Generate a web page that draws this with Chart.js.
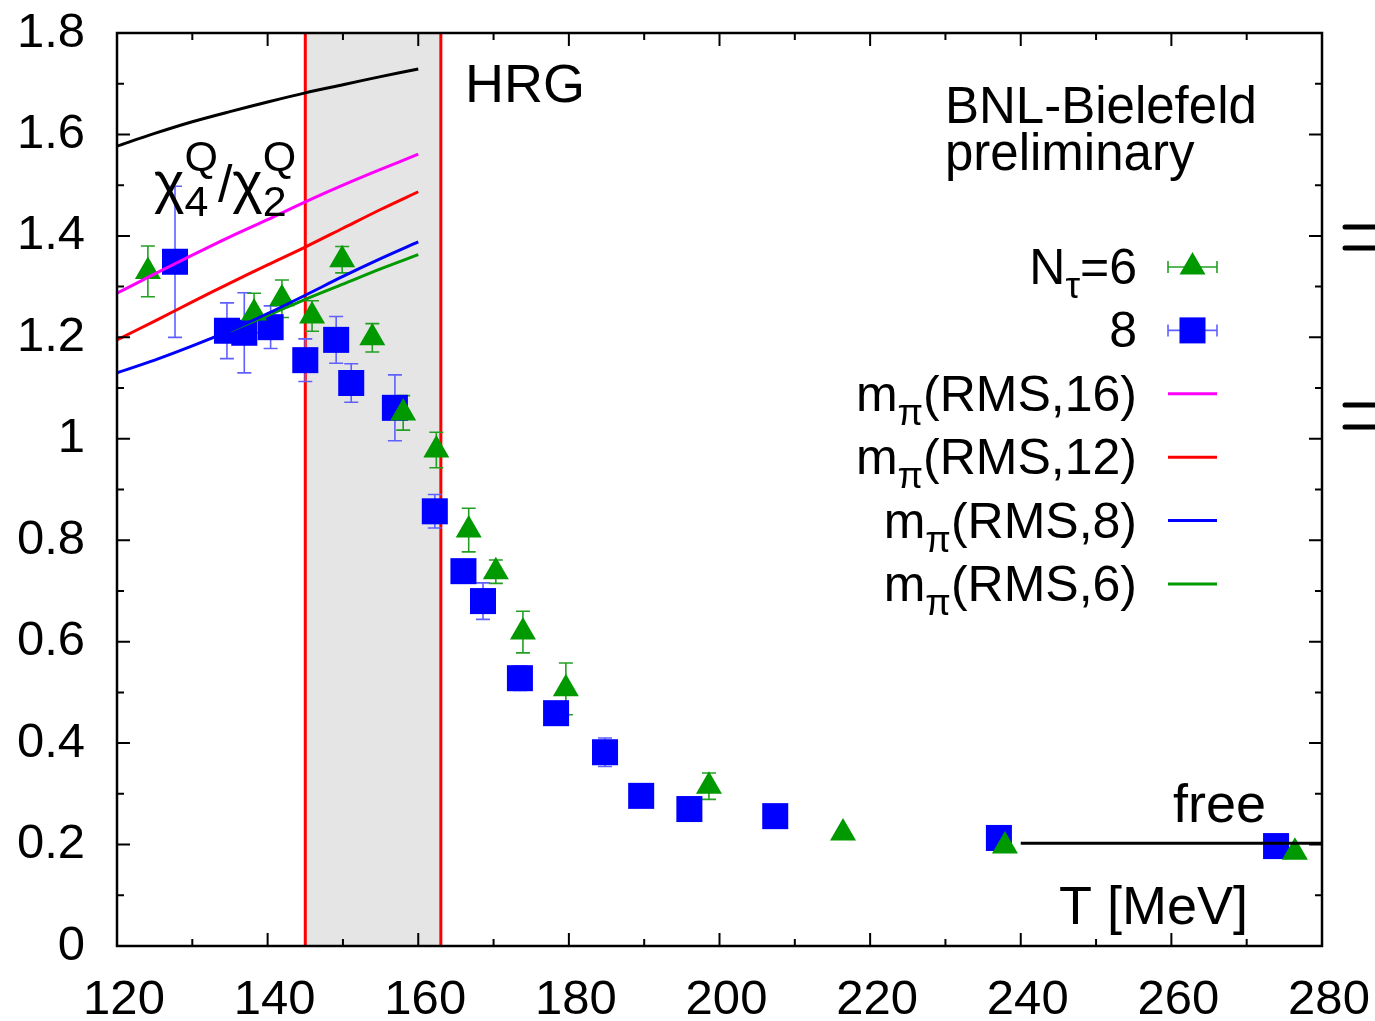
<!DOCTYPE html>
<html>
<head>
<meta charset="utf-8">
<script src="https://cdn.jsdelivr.net/npm/chart.js@4.4.1/dist/chart.umd.min.js"></script>
<style>
  html, body { margin: 0; padding: 0; background: #fff; }
  canvas { display: block; }
</style>
</head>
<body>
<canvas id="chart" width="1375" height="1021" style="width:1375px;height:1021px"></canvas>
<script>
// N_tau = 6 (green triangles)
const tempN6  = [124.1, 138.2, 141.9, 145.9, 149.9, 153.9, 158.0, 162.4, 166.7, 170.3, 173.9, 179.6, 198.6, 216.4, 237.9, 276.4];
const ratioN6 = [1.330, 1.248, 1.276, 1.242, 1.353, 1.199, 1.051, 0.978, 0.820, 0.738, 0.619, 0.507, 0.315, 0.223, 0.197, 0.185];
const errN6   = [0.050, 0.039, 0.037, 0.030, 0.026, 0.028, 0.034, 0.035, 0.043, 0.023, 0.041, 0.051, 0.026, 0.004, 0.003, 0.003];

// N_tau = 8 (blue squares)
const tempN8  = [127.7, 134.6, 136.9, 140.4, 145.0, 149.1, 151.1, 156.9, 162.2, 166.0, 168.6, 173.5, 178.3, 184.8, 189.6, 196.0, 207.4, 237.1, 273.9];
const ratioN8 = [1.349, 1.213, 1.209, 1.220, 1.155, 1.195, 1.110, 1.061, 0.857, 0.739, 0.680, 0.528, 0.459, 0.382, 0.296, 0.270, 0.256, 0.213, 0.197];
const errN8   = [0.149, 0.055, 0.079, 0.042, 0.042, 0.046, 0.038, 0.065, 0.033, 0.020, 0.036, 0.024, 0.015, 0.028, 0.010, 0.010, 0.010, 0.010, 0.010];

// HRG curves
const curveT = [120, 125, 130, 135, 140, 145, 150, 155, 160];
const hrg    = [1.577, 1.602, 1.625, 1.645, 1.664, 1.682, 1.698, 1.714, 1.729];
const rms16  = [1.287, 1.325, 1.362, 1.398, 1.432, 1.467, 1.500, 1.531, 1.561];
const rms12  = [1.195, 1.232, 1.270, 1.307, 1.343, 1.378, 1.415, 1.452, 1.487];
const rms8   = [1.130, 1.155, 1.183, 1.213, 1.247, 1.283, 1.320, 1.355, 1.388];
const rms6T  = [135.1, 140, 145, 150, 155, 160];
const rms6   = [1.213, 1.243, 1.275, 1.305, 1.335, 1.363];

// free limit
const freeT = [240, 280];
const freeV = [0.2026, 0.2026];

// transition band
const bandT = [145, 163];

const xTickValues = [120, 140, 160, 180, 200, 220, 240, 260, 280];
const yTickValues = [0, 0.2, 0.4, 0.6, 0.8, 1, 1.2, 1.4, 1.6, 1.8];

const GREEN = '#009900', BLUE = '#0000ff', MAGENTA = '#ff00ff', RED = '#ff0000';
const FONT = '"Liberation Sans", Arial, Helvetica, sans-serif';

const pts = (xs, ys) => xs.map((x, i) => ({ x: x, y: ys[i] }));

const lineSet = (label, xs, ys, color) => ({
  type: 'line', label: label, data: pts(xs, ys), borderColor: color, borderWidth: 3,
  pointRadius: 0, fill: false, tension: 0.3, order: 0
});

function layoutText(ctx, parts) {
  let x = 0, prevStart = 0, prevAdv = 0;
  const items = [];
  for (const p of parts) {
    ctx.font = p.size + 'px ' + FONT;
    const w = ctx.measureText(p.t).width;
    if (p.stack) {
      items.push(Object.assign({}, p, { x: prevStart }));
      prevAdv = Math.max(prevAdv, w);
      x = prevStart + prevAdv;
    } else {
      items.push(Object.assign({}, p, { x: x }));
      prevStart = x; prevAdv = w; x += w;
    }
  }
  return { items: items, width: x };
}

function drawRich(ctx, parts, x, base, align) {
  const L = layoutText(ctx, parts);
  const x0 = align === 'right' ? x - L.width : x;
  ctx.fillStyle = '#000';
  ctx.textBaseline = 'alphabetic';
  ctx.textAlign = 'left';
  for (const it of L.items) {
    ctx.font = it.size + 'px ' + FONT;
    ctx.fillText(it.t, x0 + it.x, base + (it.dy || 0));
  }
}

function marker(ctx, style, r, x, y, color) {
  ctx.fillStyle = color;
  Chart.helpers.drawPoint(ctx, { pointStyle: style, radius: r, borderWidth: 0, rotation: 0 }, x, y);
}

const legendRows = [
  { parts: [{ t: 'N', size: 50 }, { t: 'τ', size: 37, dy: 14 }, { t: '=6', size: 50 }], kind: 'tri' },
  { parts: [{ t: '8', size: 50 }], kind: 'sq' },
  { parts: [{ t: 'm', size: 50 }, { t: 'π', size: 37, dy: 14 }, { t: '(RMS,16)', size: 50 }], color: MAGENTA },
  { parts: [{ t: 'm', size: 50 }, { t: 'π', size: 37, dy: 14 }, { t: '(RMS,12)', size: 50 }], color: RED },
  { parts: [{ t: 'm', size: 50 }, { t: 'π', size: 37, dy: 14 }, { t: '(RMS,8)', size: 50 }], color: BLUE },
  { parts: [{ t: 'm', size: 50 }, { t: 'π', size: 37, dy: 14 }, { t: '(RMS,6)', size: 50 }], color: GREEN }
];

const decor = {
  id: 'decor',
  beforeDatasetsDraw(chart) {
    const { ctx, chartArea: a, scales: { x, y } } = chart;
    ctx.save();
    const b0 = x.getPixelForValue(bandT[0]), b1 = x.getPixelForValue(bandT[1]);
    ctx.fillStyle = '#e5e5e5';
    ctx.fillRect(b0, a.top, b1 - b0, a.bottom - a.top);
    ctx.strokeStyle = RED;
    ctx.lineWidth = 3;
    [b0, b1].forEach(px => {
      ctx.beginPath(); ctx.moveTo(px, a.top); ctx.lineTo(px, a.bottom); ctx.stroke();
    });
    // error bars
    const bars = (ts, vs, es, color) => {
      ctx.strokeStyle = color;
      ctx.lineWidth = 1.6;
      ts.forEach((t, i) => {
        const px = x.getPixelForValue(t);
        const yt = y.getPixelForValue(vs[i] + es[i]);
        const yb = y.getPixelForValue(vs[i] - es[i]);
        ctx.beginPath();
        ctx.moveTo(px, yt); ctx.lineTo(px, yb);
        ctx.moveTo(px - 7, yt); ctx.lineTo(px + 7, yt);
        ctx.moveTo(px - 7, yb); ctx.lineTo(px + 7, yb);
        ctx.stroke();
      });
    };
    bars(tempN8, ratioN8, errN8, '#6060ff');
    bars(tempN6, ratioN6, errN6, '#22a022');
    ctx.restore();
  },
  afterDraw(chart) {
    const { ctx, chartArea: a, scales: { x, y } } = chart;
    ctx.save();
    // frame
    ctx.strokeStyle = '#000';
    ctx.lineWidth = 2.5;
    ctx.strokeRect(a.left, a.top, a.right - a.left, a.bottom - a.top);
    // ticks
    ctx.lineWidth = 2;
    ctx.beginPath();
    for (let v = 120; v <= 280; v += 10) {
      const px = x.getPixelForValue(v);
      const len = v % 20 === 0 ? 13 : 7;
      ctx.moveTo(px, a.bottom); ctx.lineTo(px, a.bottom - len);
      ctx.moveTo(px, a.top); ctx.lineTo(px, a.top + len);
    }
    for (let k = 0; k <= 18; k++) {
      const py = y.getPixelForValue(k / 10);
      const len = k % 2 === 0 ? 13 : 7;
      ctx.moveTo(a.left, py); ctx.lineTo(a.left + len, py);
      ctx.moveTo(a.right, py); ctx.lineTo(a.right - len, py);
    }
    ctx.stroke();

    // annotations
    drawRich(ctx, [{ t: 'HRG', size: 54 }], 465, 102, 'left');
    drawRich(ctx, [{ t: 'BNL-Bielefeld', size: 51 }], 945, 123, 'left');
    drawRich(ctx, [{ t: 'preliminary', size: 51 }], 945, 170, 'left');
    drawRich(ctx, [{ t: 'free', size: 54 }], 1173, 822, 'left');
    drawRich(ctx, [{ t: 'T [MeV]', size: 54 }], 1059, 924, 'left');
    drawRich(ctx, [
      { t: 'χ', size: 58 },
      { t: '4', size: 43, dy: 14 }, { t: 'Q', size: 43, dy: -31, stack: true },
      { t: '/', size: 52 },
      { t: 'χ', size: 58 },
      { t: '2', size: 43, dy: 14 }, { t: 'Q', size: 43, dy: -31, stack: true }
    ], 154, 202, 'left');

    // legend
    const sx0 = 1168, sx1 = 1217, sxc = (sx0 + sx1) / 2;
    legendRows.forEach((row, i) => {
      const ry = 267 + i * 63.4;
      drawRich(ctx, row.parts, 1137, ry + 17, 'right');
      if (row.kind) {
        const col = row.kind === 'tri' ? '#22a022' : '#6060ff';
        ctx.strokeStyle = col;
        ctx.lineWidth = 1.6;
        ctx.beginPath();
        ctx.moveTo(sx0, ry); ctx.lineTo(sx1, ry);
        ctx.moveTo(sx0, ry - 6); ctx.lineTo(sx0, ry + 6);
        ctx.moveTo(sx1, ry - 6); ctx.lineTo(sx1, ry + 6);
        ctx.stroke();
        if (row.kind === 'tri') marker(ctx, 'triangle', 15, sxc, ry, GREEN);
        else marker(ctx, 'rect', 18.4, sxc, ry, BLUE);
      } else {
        ctx.strokeStyle = row.color;
        ctx.lineWidth = 3;
        ctx.beginPath(); ctx.moveTo(sx0, ry); ctx.lineTo(sx1, ry); ctx.stroke();
      }
    });

    // clipped marks at the right edge
    ctx.strokeStyle = '#000';
    ctx.lineWidth = 5;
    ctx.lineCap = 'round';
    [227, 248, 405, 427].forEach(py => {
      ctx.beginPath(); ctx.moveTo(1345, py); ctx.lineTo(1380, py); ctx.stroke();
    });
    ctx.restore();
  }
};

Chart.defaults.font.family = FONT;
Chart.defaults.color = '#000';

new Chart(document.getElementById('chart'), {
  type: 'scatter',
  data: {
    datasets: [
      {
        label: 'Nτ=6', data: pts(tempN6, ratioN6), pointStyle: 'triangle', pointRadius: 15,
        pointBackgroundColor: GREEN, pointBorderWidth: 0, backgroundColor: GREEN, borderColor: GREEN, order: 1
      },
      {
        label: '8', data: pts(tempN8, ratioN8), pointStyle: 'rect', pointRadius: 18.4,
        pointBackgroundColor: BLUE, pointBorderWidth: 0, backgroundColor: BLUE, borderColor: BLUE, order: 2
      },
      lineSet('HRG', curveT, hrg, '#000'),
      lineSet('mπ(RMS,16)', curveT, rms16, MAGENTA),
      lineSet('mπ(RMS,12)', curveT, rms12, RED),
      lineSet('mπ(RMS,8)', curveT, rms8, BLUE),
      lineSet('mπ(RMS,6)', rms6T, rms6, GREEN),
      lineSet('free', freeT, freeV, '#000')
    ]
  },
  options: {
    responsive: false,
    animation: false,
    devicePixelRatio: 1,
    layout: { padding: { top: 33, right: 53, left: 0, bottom: 0 } },
    plugins: { legend: { display: false }, tooltip: { enabled: false } },
    scales: {
      x: {
        type: 'linear', min: 120, max: 280,
        grid: { display: false, drawTicks: false },
        border: { display: false },
        afterBuildTicks: s => { s.ticks = xTickValues.map(v => ({ value: v })); },
        afterFit: s => { s.height = 75; s.paddingLeft = 0; s.paddingRight = 0; },
        ticks: { font: { size: 49 }, color: '#000', padding: 25, labelOffset: 7, maxRotation: 0, autoSkip: false,
                 callback: v => String(v) }
      },
      y: {
        type: 'linear', min: 0, max: 1.8,
        grid: { display: false, drawTicks: false },
        border: { display: false },
        afterBuildTicks: s => { s.ticks = yTickValues.map(v => ({ value: v })); },
        afterFit: s => { s.width = 117; s.paddingTop = 0; s.paddingBottom = 0; },
        ticks: { font: { size: 49 }, color: '#000', padding: 32, autoSkip: false,
                 callback: v => String(v) }
      }
    }
  },
  plugins: [decor]
});
</script>
</body>
</html>
